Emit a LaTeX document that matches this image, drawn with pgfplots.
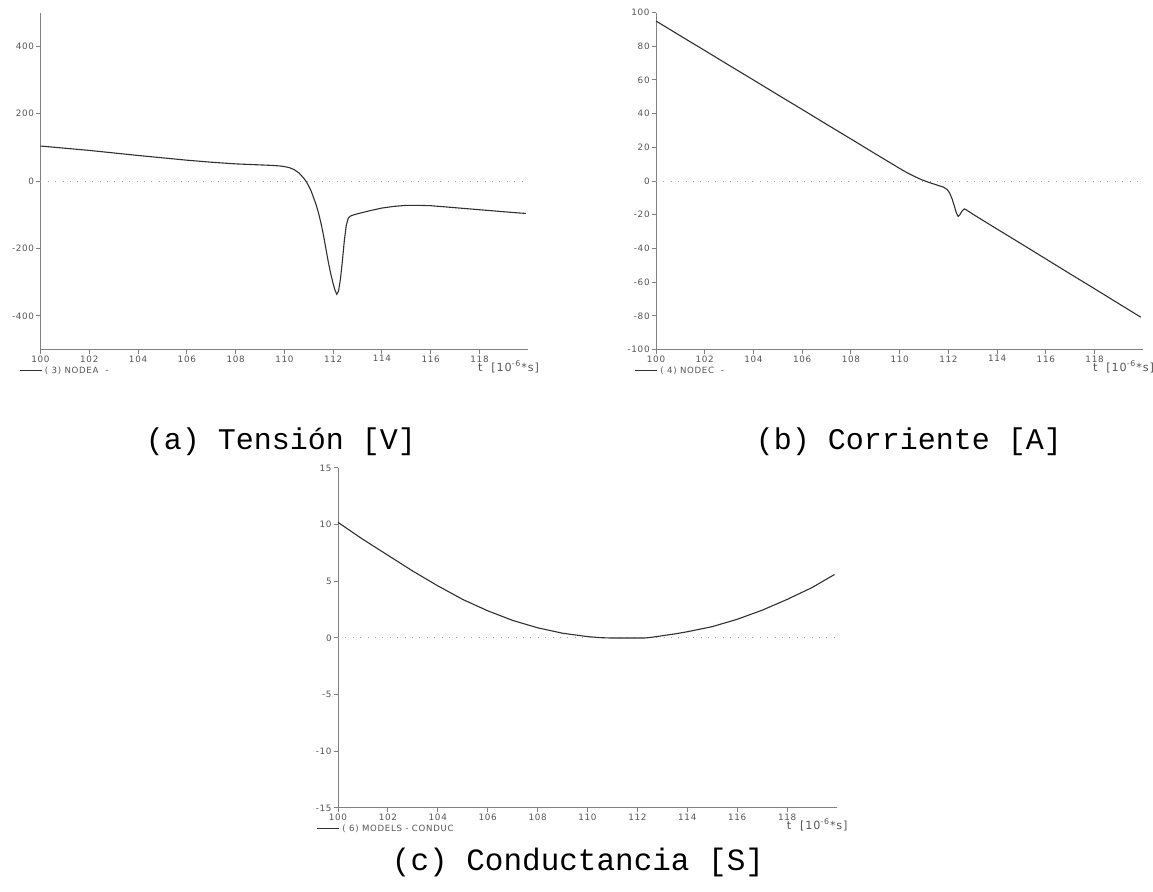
\documentclass[border=0pt]{standalone}
\usepackage{pgfplots}
\pgfplotsset{compat=1.18}
\usepackage{fontspec}
\setmainfont{DejaVu Sans}
\newfontfamily\capfont{Liberation Mono}
\newfontfamily\tickfont[LetterSpace=8]{DejaVu Sans}
\definecolor{axgray}{HTML}{808080}
\definecolor{txtgray}{HTML}{555555}
\definecolor{curve}{HTML}{303030}
\definecolor{dotgray}{HTML}{A0A0A0}
\newcommand{\atpf}{\tickfont\fontsize{4.4}{5}\selectfont}
\newcommand{\labf}{\tickfont\fontsize{5.6}{6.5}\selectfont}
\newcommand{\legf}{\tickfont\fontsize{4.3}{5}\selectfont}
\pgfplotsset{
 atp/.style={
  scale only axis,
  anchor=south west,
  axis lines*=left,
  axis line style={axgray, line width=0.5pt},
  xmin=100, xmax=120,
  xtick={100,102,...,118},
  tick style={axgray, line width=0.5pt},
  tick align=outside,
  major tick length=2pt,
  ticklabel style={font=\atpf, text=txtgray, inner sep=1pt},
  xticklabel style={inner sep=0.8pt},
  /pgf/number format/assume math mode=true,
  clip=false,
 },
 zeroline/.style={dotgray, line width=0.5pt, dash pattern=on 0.5pt off 3.2pt},
 crv/.style={curve, line width=0.55pt},
}
\newcommand{\xlab}[1]{%
 \node[anchor=east, font=\labf, text=txtgray, inner sep=0pt] at ([xshift=5.5pt,yshift=-8.5pt]#1.south east) {t\ \ [10\textsuperscript{-6}*s]};}
\newcommand{\leg}[2]{%
 \draw[curve, line width=0.5pt] ([xshift=-10.5pt,yshift=-10.5pt]#1.south west) -- ([xshift=0.5pt,yshift=-10.5pt]#1.south west);
 \node[anchor=west, font=\legf, text=txtgray, inner sep=0pt] at ([xshift=2pt,yshift=-10.5pt]#1.south west) {#2};}
\begin{document}
\begin{tikzpicture}
\path[use as bounding box] (0,0) rectangle (576.5pt,446pt);
% (a)
\begin{axis}[atp, name=pa, at={(20.25pt,271.2pt)}, width=243.9pt, height=168.5pt,
  ymin=-500, ymax=500, ytick={-400,-200,0,200,400}]
\addplot[zeroline] coordinates {(100,0) (119.9,0)};
\addplot[crv] coordinates {
(100,104) (101,97.5) (102,91) (103,83.5) (104,76) (105,69) (106,62) (107,56) (108,51)
(108.5,49.5) (109,48) (109.5,46.5) (109.8,45) (110,43) (110.2,40) (110.4,34) (110.6,24)
(110.8,8) (110.9,-2) (111.0,-15) (111.1,-30) (111.2,-50) (111.3,-70) (111.4,-95)
(111.5,-125) (111.6,-160) (111.7,-200) (111.8,-240) (111.9,-275) (112.0,-305)
(112.08,-325) (112.15,-336) (112.22,-326) (112.3,-290) (112.38,-235) (112.46,-175)
(112.54,-130) (112.62,-110) (112.7,-104) (112.85,-100) (113,-97) (113.5,-88) (114,-80)
(114.5,-75) (115,-72) (115.5,-72) (116,-73) (116.5,-76) (117,-79) (117.5,-82) (118,-85)
(118.5,-88) (119,-91) (119.5,-94) (119.9,-96)};
\end{axis}
\xlab{pa}
\leg{pa}{(\ 3)\ NODEA\ \ -}
% (b)
\begin{axis}[atp, name=pb, at={(328pt,271.2pt)}, width=243.65pt, height=168.5pt,
  ymin=-100, ymax=100, ytick={-100,-80,...,100}]
\addplot[zeroline] coordinates {(100,0) (119.9,0)};
\addplot[crv] coordinates {
(100,95) (101,86.2) (102,77.5) (103,68.7) (104,60) (105,51.2) (106,42.5) (107,33.7)
(108,25) (109,16.2) (110,7.5) (110.3,5) (110.6,2.8) (110.9,0.8) (111.2,-0.8) (111.5,-2.2)
(111.8,-3.6) (111.95,-5) (112.05,-7) (112.15,-10.5) (112.25,-15) (112.33,-19) (112.4,-21)
(112.47,-20) (112.55,-18) (112.65,-16.5) (112.75,-17.2) (113,-19.6) (114,-28.5) (115,-37.3)
(116,-46.2) (117,-55.1) (118,-63.9) (119,-72.8) (119.9,-80.8)};
\end{axis}
\xlab{pb}
\leg{pb}{(\ 4)\ NODEC\ \ -}
% (c)
\begin{axis}[atp, name=pc, at={(169pt,42pt)}, width=249.5pt, height=170pt,
  ymin=-15, ymax=15, ytick={-15,-10,...,15}]
\addplot[zeroline] coordinates {(100,0) (119.9,0)};
\addplot[crv] coordinates {
(100,10.2) (101,8.7) (102,7.3) (103,5.9) (104,4.6) (105,3.4) (106,2.4) (107,1.55)
(108,0.9) (109,0.42) (110,0.12) (110.5,0.03) (110.9,0) (112.3,0) (112.6,0.07) (113,0.2)
(113.5,0.36) (114,0.55) (115,1.0) (116,1.65) (117,2.45) (118,3.4) (119,4.45) (119.9,5.6)};
\end{axis}
\xlab{pc}
\leg{pc}{(\ 6)\ MODELS\ -\ CONDUC}
% captions
\node[font=\capfont\fontsize{15}{18}\selectfont] at (140.5pt,225pt) {(a) Tensión [V]};
\node[font=\capfont\fontsize{15}{18}\selectfont] at (454.5pt,225pt) {(b) Corriente [A]};
\node[font=\capfont\fontsize{15.5}{18}\selectfont] at (289pt,15pt) {(c) Conductancia [S]};
\end{tikzpicture}
\end{document}
